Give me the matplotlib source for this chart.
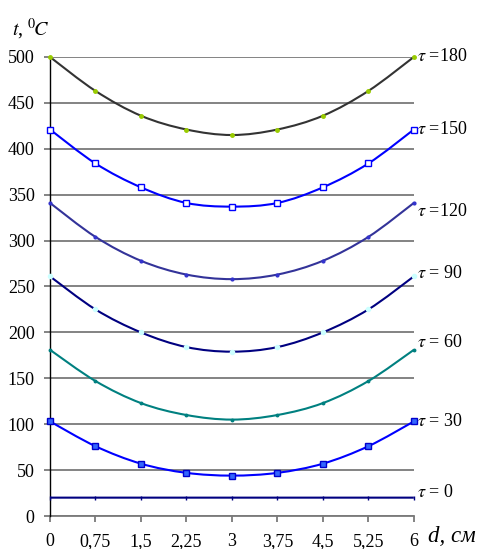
import numpy as np
import matplotlib
matplotlib.use('Agg')
from matplotlib import pyplot as plt
from matplotlib.path import Path
from matplotlib.patches import PathPatch

plt.rcParams['font.family'] = ['Liberation Serif', 'DejaVu Serif']
plt.rcParams['mathtext.fontset'] = 'stix'

# plate thickness coordinate, cm
d = [0, 0.75, 1.5, 2.25, 3, 3.75, 4.5, 5.25, 6]
d_labels = ['0', '0,75', '1,5', '2,25', '3', '3,75', '4,5', '5,25', '6']

# temperature profiles, deg C, for each time tau
tau = [180, 150, 120, 90, 60, 30, 0]
t180 = [500, 463, 436, 421, 415, 421, 436, 463, 500]
t150 = [421, 384, 358, 341, 337, 341, 358, 384, 421]
t120 = [341, 304, 278, 263, 258, 263, 278, 304, 341]
t90 = [261, 225, 200, 184, 179, 184, 200, 225, 261]
t60 = [181, 147, 123, 110, 105, 110, 123, 147, 181]
t30 = [103, 76, 57, 47, 44, 47, 57, 76, 103]
t0 = [20, 20, 20, 20, 20, 20, 20, 20, 20]
profiles = [t180, t150, t120, t90, t60, t30, t0]

# line colour, marker, marker size, marker face, marker edge, label offset (pt)
styles = [
    ('#333333', 'o', 2.5, '#99CC00', '#99CC00', 0),
    ('#0000FF', 's', 4.5, 'white', '#0000FF', 0),
    ('#333399', 'o', 2.0, '#3333CC', '#3333CC', -6),
    ('#000080', 'o', 3.0, '#CCFFFF', '#CCFFFF', 2),
    ('#008080', 'o', 1.8, '#008080', '#008080', 5),
    ('#0000FF', 's', 4.5, '#3366FF', '#0000CC', 0),
    ('#000080', '|', 3.0, '#000080', '#000080', 4),
]


def smooth_path(x, y):
    # Catmull-Rom spline through the points, written as cubic Bezier segments
    pts = np.column_stack([x, y]).astype(float)
    ext = np.vstack([pts[0], pts, pts[-1]])
    verts = [pts[0]]
    codes = [Path.MOVETO]
    for i in range(len(pts) - 1):
        p0, p1, p2, p3 = ext[i], ext[i + 1], ext[i + 2], ext[i + 3]
        verts += [p1 + (p2 - p0) / 6, p2 - (p3 - p1) / 6, p2]
        codes += [Path.CURVE4] * 3
    return Path(verts, codes)


fig = plt.figure(figsize=(4.88, 5.49), dpi=100)
ax = fig.add_axes([0.1025, 0.0601, 0.7455, 0.8361])
ax.set_xlim(0, 6)
ax.set_ylim(0, 500)

ax.set_yticks(np.arange(0, 501, 50))
ax.set_xticks(d)
ax.set_xticklabels(d_labels)
ax.yaxis.grid(True, color='#7a7a7a', lw=1.3)
ax.set_axisbelow(True)
for s in ['top', 'right']:
    ax.spines[s].set_visible(False)
ax.spines['left'].set_color('black')
ax.spines['left'].set_linewidth(1.0)
ax.spines['left'].set_zorder(3)
ax.spines['bottom'].set_color('#7a7a7a')
ax.spines['bottom'].set_linewidth(1.3)
ax.tick_params(axis='y', length=4, width=1.3, color='#7a7a7a', pad=7, labelsize=13)
ax.tick_params(axis='x', length=4, width=1.3, color='#7a7a7a', pad=8, labelsize=13)

for tv, prof, st in zip(tau, profiles, styles):
    col, mk, ms, mfc, mec, dy = st
    ax.add_patch(PathPatch(smooth_path(d, prof), fill=False, edgecolor=col,
                           lw=1.5, clip_on=False, zorder=4))
    ax.plot(d, prof, ls='none', marker=mk, ms=ms, mfc=mfc, mec=mec,
            mew=1.0, clip_on=False, zorder=5)
    lab = r'$\tau$ =' + str(tv) if tv >= 100 else r'$\tau$ = ' + str(tv)
    ax.annotate(lab, (d[-1], prof[-1]), xytext=(2, dy),
                textcoords='offset points', ha='left', va='center',
                fontsize=13, annotation_clip=False)

fig.text(0.025, 0.947, r'$t$, $^{0}\!C$', fontsize=14.5, ha='left', va='center')
fig.text(0.878, 0.012, 'd, см', fontsize=16.5, style='italic', ha='left', va='baseline')

fig.savefig('out.png', dpi=100)
